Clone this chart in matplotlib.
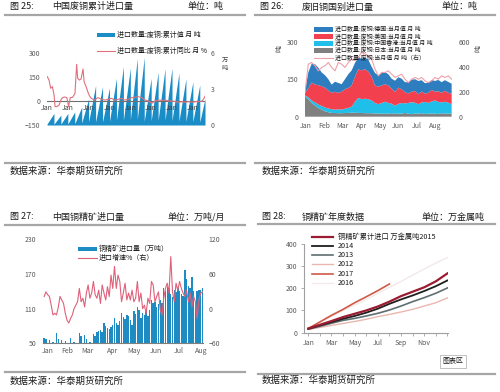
import numpy as np
import matplotlib.pyplot as plt
from matplotlib.patches import Rectangle
from matplotlib.lines import Line2D

plt.rcParams['font.family'] = ['Noto Sans CJK SC', 'DejaVu Sans']

# ---------------- 图25 中国废铜累计进口量 ----------------
scrap_years = list(range(1995, 2018))
scrap_jan = [0.08, 0.07, 0.08, 0.09, 0.12, 0.18, 0.27, 0.26, 0.26, 0.32, 0.40, 0.40, 0.46,
             0.47, 0.32, 0.36, 0.39, 0.40, 0.36, 0.32, 0.30, 0.27, 0.25]
scrap_peak = [0.97, 0.83, 0.97, 1.1, 1.5, 2.2, 3.3, 3.2, 3.1, 3.9, 4.9, 4.75, 5.55,
              5.65, 3.9, 4.4, 4.7, 4.75, 4.35, 3.85, 3.6, 3.35, 2.2]
scrap_last = 2017.75  # last month of the partial year

yoy_t = [1995.05, 1995.29, 1995.53, 1995.78, 1996.02, 1996.16, 1996.41, 1996.75, 1996.99,
         1997.23, 1997.57, 1997.86, 1998.11, 1998.35, 1998.69, 1999.03, 1999.27, 1999.42,
         1999.66, 1999.9, 2000.19, 2000.34, 2000.63, 2000.87, 2001.11, 2001.36,
         2001.84, 2002.33, 2002.81, 2003.30, 2003.78, 2004.27, 2004.75, 2005.24, 2005.72,
         2006.21, 2006.69, 2007.18, 2007.66, 2008.15, 2008.63, 2009.12, 2009.60, 2010.09,
         2010.57, 2011.06, 2011.54, 2012.03, 2012.51, 2013.00, 2013.49, 2013.97, 2014.46,
         2014.94, 2015.43, 2015.91, 2016.40, 2016.88, 2017.37, 2017.6, 2017.75]
yoy_v = [152, 131, 79, 90, 37, -35, -35, -25, 6, 21, 25, 21, -35, 21, 23, 48, 229, 142,
         131, 137, 200, 121, 90, 58, 33, 17,
         6, 21, 12, 6, 10, 17, 6, 10, 17, 6, 10, 21, 23, 27, 21, 6, 0, -15, 0, 6, 4, 6,
         0, 0, -4, -8, -4, -8, -4, -8, -4, -4, 0, 17, 30]

# ---------------- 图26 废旧铜国别进口量 ----------------
month_labels = ['Jan', 'Feb', 'Mar', 'Apr', 'May', 'Jun', 'Jul', 'Aug']
japan = [80, 70, 55, 45, 35, 28, 22, 18, 15, 15, 14, 14, 15, 15, 16, 16, 15, 15, 14, 14,
         14, 13, 13, 12, 12, 12, 14, 11, 13, 12, 15, 12, 10, 13, 12, 14, 11, 12, 13, 12,
         11, 14, 12, 13, 12]
hongkong = [5, 8, 10, 12, 14, 15, 15, 15, 15, 13, 16, 14, 17, 20, 24, 44, 60, 55, 58, 56,
            51, 42, 37, 43, 48, 43, 38, 33, 38, 43, 38, 43, 48, 43, 38, 43, 48, 43, 48, 53,
            48, 43, 48, 43, 38]
usa = [10, 35, 72, 72, 77, 79, 79, 72, 65, 72, 65, 72, 78, 80, 85, 100, 115, 115, 118, 110,
       95, 70, 70, 70, 70, 70, 60, 55, 65, 55, 45, 38, 42, 47, 40, 44, 33, 41, 46, 35,
       43, 38, 44, 40, 42]
germany = [8, 64, 75, 81, 70, 55, 50, 45, 33, 40, 40, 30, 40, 55, 60, 55, 47, 47, 47, 48,
           40, 50, 45, 50, 48, 45, 40, 45, 42, 42, 40, 45, 48, 47, 53, 45, 42, 40, 40, 43,
           45, 43, 42, 43, 40]
scrap_total = [193, 420, 434, 407, 367, 394, 407, 434, 394, 367, 434, 420, 394, 434, 461,
               448, 475, 515, 501, 488, 461, 381, 327, 354, 354, 367, 340, 314, 327, 340,
               300, 273, 300, 314, 300, 314, 287, 273, 287, 314, 300, 327, 314, 327, 300]

# ---------------- 图27 中国铜精矿进口量 ----------------
conc_imports = [60, 58, 47, 55, 47, 52, 45, 68, 57, 47, 55, 46, 54, 44, 48, 60, 46, 53, 45, 47,
                68, 62, 46, 64, 57, 45, 53, 45, 66, 62,
                70, 72, 73, 70, 86, 80, 76, 74, 79, 82, 93, 85, 81, 88, 102, 96, 92, 99, 97, 90,
                81, 106, 100, 112, 108, 93, 102, 99, 106, 98, 108, 125, 119, 121, 113, 118,
                125, 120, 145, 140, 148, 145, 136, 130, 142, 138, 145, 140, 136, 132, 177,
                162, 150, 146, 165, 140, 122, 140, 143, 142, 145]
conc_growth = [21, 29, 24, 21, 6, -11, -8, -11, 2, 21, 15, 9, -8, -20, -25, -17, -11, 0, 6,
               12, 35, 12, 18, 3, 27, 41, 18, 27, 47, 24, 18, 32, 9, 41, 27, 15, 38, 21, 58,
               35, 73, 35, 58, 47, 12, 27, 44, 15, 27, 15, 32, 12, 18,
               47, 12, 27, 0, 6, -8, 18, 9, 47, 41, 12, 21,
               29, -2, -11, 18, 35, 44, 27, 90, 29, 12, 44, 32, 47, 35, 27,
               21, 32, 12, 27, 3, 21, 12, -17, 15, 27, 29]
conc_tick_pos = [2, 13, 24.5, 39, 51, 63.5, 76.5, 89.5]

# ---------------- 图28 铜精矿年度数据 ----------------
year_months = ['Jan', '', 'Mar', '', 'May', '', 'Jul', '', 'Sep', '', 'Nov', '', '']
cum_2015 = [18, 35, 52, 70, 85, 100, 118, 140, 165, 185, 205, 232, 268]
cum_2014 = [17, 32, 47, 62, 75, 90, 108, 130, 150, 168, 188, 210, 236]
cum_2013 = [15, 28, 42, 55, 64, 75, 87, 102, 120, 140, 158, 178, 202]
cum_2012 = [14, 23, 32, 41, 50, 60, 72, 82, 93, 105, 120, 135, 157]
cum_2017 = [18, 48, 78, 105, 135, 162, 190, 220]
cum_2016 = [20, 45, 72, 100, 125, 150, 178, 205, 232, 260, 288, 315, 340]

W, H = 500, 392
fig = plt.figure(figsize=(5, 3.92), dpi=100)
fig.patch.set_facecolor('white')


def box(l, t, r, b):
    return [l / W, 1 - b / H, (r - l) / W, (b - t) / H]


def ftext(x, y, s, **kw):
    kw.setdefault('va', 'center')
    kw.setdefault('color', '#1a1a1a')
    fig.text(x / W, 1 - y / H, s, **kw)


def hline(x0, x1, y, color='#A6A6A6', lw=1.6):
    fig.add_artist(Line2D([x0 / W, x1 / W], [1 - y / H] * 2, color=color, lw=lw))


def key_patch(x0, x1, yc, h, color):
    fig.add_artist(Rectangle((x0 / W, 1 - (yc + h / 2) / H), (x1 - x0) / W, h / H,
                             facecolor=color, lw=0, transform=fig.transFigure))


def key_line(x0, x1, yc, color, lw):
    fig.add_artist(Line2D([x0 / W, x1 / W], [1 - yc / H] * 2, color=color, lw=lw))


tick_kw = dict(labelsize=5, labelcolor='#595959', length=0)

# headers and footers
hs = 6.5
ftext(10, 7, '图 25:', fontsize=hs)
ftext(52, 7, '中国废铜累计进口量', fontsize=hs)
ftext(187, 7, '单位：吨', fontsize=hs)
ftext(260, 7, '图 26:', fontsize=hs)
ftext(302, 7, '废旧铜国别进口量', fontsize=hs)
ftext(442, 7, '单位：吨', fontsize=hs)
ftext(10, 217, '图 27:', fontsize=hs)
ftext(52, 217, '中国铜精矿进口量', fontsize=hs)
ftext(167, 217, '单位：万吨/月', fontsize=hs)
ftext(262, 217, '图 28:', fontsize=hs)
ftext(302, 217, '铜精矿年度数据', fontsize=hs)
ftext(422, 217, '单位：万金属吨', fontsize=hs)
hline(5, 245, 14.7)
hline(255, 495, 14.7)
hline(5, 245, 225.3)
hline(258, 495, 224.3)
hline(5, 245, 163)
hline(255, 495, 163)
hline(5, 245, 371.7)
hline(258, 495, 374.3)
fs = 6.8
ftext(10, 171, '数据来源：华泰期货研究所', fontsize=fs)
ftext(262, 171, '数据来源：华泰期货研究所', fontsize=fs)
ftext(10, 381, '数据来源：华泰期货研究所', fontsize=fs)
ftext(262, 380, '数据来源：华泰期货研究所', fontsize=fs)

# ---- panel 1
blue = '#1A8CC6'
ax1 = fig.add_axes(box(47, 53, 205, 125))
xs, ys = [], []
for i, y0 in enumerate(scrap_years):
    y1 = y0 + 1 if i < len(scrap_years) - 1 else scrap_last
    xs += [y0, y1]
    ys += [scrap_jan[i], scrap_peak[i]]
ax1.fill_between(xs, 0, ys, color=blue, lw=0)
ax1.set_xlim(1995, 2017.75)
ax1.set_ylim(0, 6)
ax1.set_xticks(scrap_years[::3])
ax1.set_xticklabels(['Jan'] * len(scrap_years[::3]))
ax1.spines['bottom'].set_position(('axes', 1 / 3))
for s in ax1.spines.values():
    s.set_visible(False)
ax1.tick_params(axis='x', pad=2, labelsize=5, labelcolor='#404040', length=0)
ax1b = ax1.twinx()
ax1b.set_ylim(-150, 300)
ax1b.axhline(0, color='#707070', lw=0.8)
ax1b.plot(yoy_t, yoy_v, color='#E0707E', lw=0.8)
ax1b.yaxis.tick_left()
ax1b.set_yticks([-150, 0, 150, 300])
ax1b.tick_params(axis='y', pad=5, **tick_kw)
for s in ax1b.spines.values():
    s.set_visible(False)
# bars use the right-hand scale
ax1.yaxis.tick_right()
ax1.set_yticks([0, 3, 6])
ax1.tick_params(axis='y', pad=4, **tick_kw)
ftext(225, 64, '万\n吨', fontsize=4.5, ha='center', linespacing=1.0, color='#404040')
key_patch(97, 115, 35.3, 4, blue)
ftext(117, 35.3, '进口数量:废铜:累计值 月 吨', fontsize=5)
key_line(97, 115, 50.7, '#E0707E', 0.8)
ftext(117, 50.7, '进口数量:废铜:累计同比 月 %', fontsize=5)

# ---- panel 2
c_de, c_us, c_hk, c_jp = '#2E7DBE', '#F2404F', '#20BFEA', '#808080'
x2 = np.linspace(-0.05, 7.9, len(japan))
ax2 = fig.add_axes(box(305, 41.7, 452, 116.7))
ax2.stackplot(x2, japan, hongkong, usa, germany, colors=[c_jp, c_hk, c_us, c_de], lw=0)
ax2.set_xlim(-0.05, 7.92)
ax2.set_ylim(0, 300)
ax2.set_yticks([0, 150, 300])
ax2.set_xticks(range(len(month_labels)))
ax2.set_xticklabels(month_labels)
ax2.tick_params(axis='y', pad=5, **tick_kw)
ax2.tick_params(axis='x', pad=4, **tick_kw)
for s in ax2.spines.values():
    s.set_visible(False)
ax2b = ax2.twinx()
ax2b.plot(x2, scrap_total, color='#F0A0AA', lw=0.8)
ax2b.set_ylim(0, 600)
ax2b.set_yticks([0, 200, 400, 600])
ax2b.tick_params(axis='y', pad=5, **tick_kw)
for s in ax2b.spines.values():
    s.set_visible(False)
ftext(279, 48, '吨', fontsize=5, rotation=90, ha='center', color='#404040')
ftext(478, 48, '吨', fontsize=5, rotation=90, ha='center', color='#404040')
rows2 = [('进口数量:废铜:德国:当月值 月 吨', c_de, 29.5),
         ('进口数量:废铜:美国:当月值 月 吨', c_us, 36.5),
         ('进口数量:废铜:中国香港:当月值 月 吨', c_hk, 43.5),
         ('进口数量:废铜:日本:当月值 月 吨', c_jp, 50.5)]
for label, col, yc in rows2:
    key_patch(314, 333, yc, 4, col)
    ftext(335, yc, label, fontsize=4.3)
key_line(314, 333, 57.5, '#F0A0AA', 0.8)
ftext(335, 57.5, '进口数量:废铜:当月值 月 吨（右）', fontsize=4.3)

# ---- panel 3
ax3 = fig.add_axes(box(43.3, 239.3, 203.3, 343.3))
ax3.bar(range(len(conc_imports)), conc_imports, width=0.8, color='#1E8BC3', lw=0)
ax3.set_xlim(-0.5, len(conc_imports) - 0.5)
ax3.set_ylim(50, 230)
ax3.set_yticks([50, 110, 170, 230])
ax3.set_xticks(conc_tick_pos)
ax3.set_xticklabels(month_labels)
ax3.tick_params(axis='y', pad=5, **tick_kw)
ax3.tick_params(axis='x', pad=3, **tick_kw)
for s in ax3.spines.values():
    s.set_visible(False)
ax3.spines['bottom'].set_visible(True)
ax3.spines['bottom'].set_color('#808080')
ax3.spines['bottom'].set_linewidth(0.8)
ax3b = ax3.twinx()
ax3b.plot(range(len(conc_growth)), conc_growth, color='#E0607A', lw=0.8)
ax3b.set_ylim(-60, 120)
ax3b.set_yticks([-60, 0, 60, 120])
ax3b.tick_params(axis='y', pad=4, **tick_kw)
for s in ax3b.spines.values():
    s.set_visible(False)
key_patch(78.3, 96.7, 249, 4, '#1E8BC3')
ftext(98.5, 249, '铜精矿进口量（万吨）', fontsize=5)
key_line(78.3, 96.7, 257.7, '#E0607A', 0.8)
ftext(98.5, 257.7, '进口增速%（右）', fontsize=5)

# ---- panel 4
ax4 = fig.add_axes(box(304, 244.3, 448, 332.5))
series4 = [('2016', cum_2016, '#F4E8E8', 1.0),
           ('2012', cum_2012, '#E8B8AE', 1.0),
           ('2013', cum_2013, '#5F6E70', 1.2),
           ('2014', cum_2014, '#1F1F1F', 1.3),
           ('2017', cum_2017, '#CF5A45', 1.2),
           ('2015', cum_2015, '#9B1B30', 1.6)]
for name, vals, col, lw in series4:
    ax4.plot(range(len(vals)), vals, color=col, lw=lw)
ax4.set_xlim(-0.37, 12.05)
ax4.set_ylim(0, 400)
ax4.set_yticks([0, 100, 200, 300, 400])
ax4.set_xticks(range(len(year_months)))
ax4.set_xticklabels(year_months)
ax4.tick_params(labelsize=5, labelcolor='#595959', length=2, width=0.6, color='#A0A0A0')
ax4.tick_params(axis='y', pad=3)
ax4.tick_params(axis='x', pad=3)
ax4.spines['top'].set_visible(False)
ax4.spines['right'].set_visible(False)
for side in ('left', 'bottom'):
    ax4.spines[side].set_color('#A0A0A0')
    ax4.spines[side].set_linewidth(0.8)
legend4 = [('铜精矿累计进口 万金属吨2015', '#9B1B30', 1.6),
           ('2014', '#1F1F1F', 1.3),
           ('2013', '#5F6E70', 1.2),
           ('2012', '#E8B8AE', 1.0),
           ('2017', '#CF5A45', 1.2),
           ('2016', '#F4E8E8', 1.0)]
for k, (label, col, lw) in enumerate(legend4):
    yc = 236.7 + 9.2 * k
    key_line(311.7, 333.3, yc, col, lw)
    ftext(338, yc, label, fontsize=5.2)
ftext(453, 361.5, '图表区', fontsize=5, ha='center',
      bbox=dict(boxstyle='square,pad=0.35', fc='white', ec='#B8B8B8', lw=0.6))

fig.savefig('out.png', dpi=100, facecolor='white')
